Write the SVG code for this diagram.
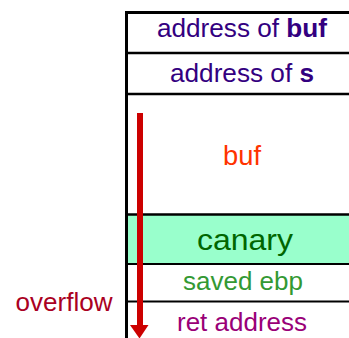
<svg xmlns="http://www.w3.org/2000/svg" width="349" height="338" viewBox="0 0 349 338">
<style>
text{font-family:"Liberation Sans",Arial,sans-serif;text-anchor:middle}
.t{font-size:25px}
.ln{stroke:#000;fill:none}
.addr{fill:#330080}
</style>
<g id="frame">
<rect x="127" y="214" width="222" height="50" fill="#99FFCC"/>
<line class="ln" x1="126.5" y1="11" x2="126.5" y2="338" stroke-width="3"/>
<line class="ln" x1="125" y1="12.5" x2="349" y2="12.5" stroke-width="3"/>
<line class="ln" x1="126" y1="53" x2="349" y2="53" stroke-width="2.5"/>
<line class="ln" x1="126" y1="94" x2="349" y2="94" stroke-width="2.5"/>
<line class="ln" x1="126" y1="214.5" x2="349" y2="214.5" stroke-width="2.5"/>
<line class="ln" x1="126" y1="264" x2="349" y2="264" stroke-width="2"/>
<line class="ln" x1="126" y1="301.5" x2="349" y2="301.5" stroke-width="2"/>
</g>
<g id="addr-buf"><text class="t addr" x="242" y="37" textLength="170" lengthAdjust="spacingAndGlyphs">address of <tspan font-weight="bold">buf</tspan></text></g>
<g id="addr-s"><text class="t addr" x="242" y="82" textLength="144" lengthAdjust="spacingAndGlyphs">address of <tspan font-weight="bold">s</tspan></text></g>
<g id="buf"><text x="242" y="165" fill="#FF3300" style="font-size:27px" textLength="38" lengthAdjust="spacingAndGlyphs">buf</text></g>
<g id="canary"><text x="245" y="250" fill="#006600" style="font-size:30px" textLength="96" lengthAdjust="spacingAndGlyphs">canary</text></g>
<g id="saved-ebp"><text class="t" x="243" y="290" fill="#339933" textLength="120" lengthAdjust="spacingAndGlyphs">saved ebp</text></g>
<g id="ret"><text class="t" x="242" y="331" fill="#990077" textLength="130" lengthAdjust="spacingAndGlyphs">ret address</text></g>
<g id="overflow"><text class="t" x="64" y="311" fill="#AA0022" textLength="97" lengthAdjust="spacingAndGlyphs">overflow</text></g>
<g id="connectors">
<line x1="140" y1="113" x2="140" y2="326" stroke="#CC0000" stroke-width="6"/>
<polygon points="130,325 148.5,325 139.5,338.5" fill="#CC0000"/>
</g>
</svg>
